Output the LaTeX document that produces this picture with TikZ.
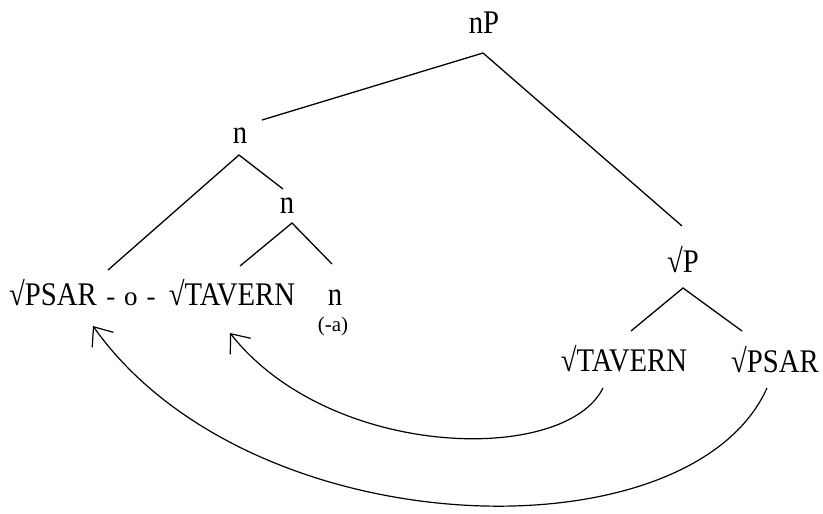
\documentclass[tikz,border=0pt]{standalone}
\usepackage{fontspec}
\setmainfont{Liberation Serif}
\newfontfamily\treefont[FakeStretch=0.87]{Liberation Serif}
\usepackage{tikz}
\usetikzlibrary{arrows.meta}

\begin{document}
\begin{tikzpicture}[x=1pt,y=-1pt,thick,
    tree/.style={inner sep=0pt,anchor=base,font=\treefont\fontsize{33}{36}\selectfont},
    linker/.style={inner sep=0pt,anchor=base,font=\fontsize{27}{29}\selectfont},
    suffix/.style={inner sep=0pt,anchor=base,font=\fontsize{21}{23}\selectfont},
    branch/.style={line width=1.3pt},
    move/.style={line width=1.2pt,-{Straight Barb[length=16pt,width=26pt]}}]
       \useasboundingbox (0,0) rectangle (823,514);

       \node[tree] (nP) at (484,33) {nP};
       \node[tree] (n1) at (240,143) {n};
       \node[tree] (n2) at (287,213) {n};
       \node[tree] (rootP) at (683,272) {√P};
       \node[tree] (psarL) at (53,305) {√PSAR};
       \node[linker] (link) at (131,305) {-\hspace{9pt}o\hspace{9pt}-};
       \node[tree] (tavL) at (232,305) {√TAVERN};
       \node[tree] (n3) at (335,305) {n};
       \node[suffix] (suf) at (333,331) {(-a)};
       \node[tree] (tavR) at (624,371) {√TAVERN};
       \node[tree] (psarR) at (775,372) {√PSAR};

       % tree branches
       \draw[branch] ([shift={(22,-23)}]n1.base) -- ([shift={(-1,20)}]nP.base)
            -- ([shift={(-1,-46)}]rootP.base);
       \draw[branch] ([shift={(55,-35)}]psarL.base) -- ([shift={(-1,12)}]n1.base)
            -- ([shift={(-4,-24)}]n2.base);
       \draw[branch] ([shift={(8,-39)}]tavL.base) -- ([shift={(5,10)}]n2.base)
            -- ([shift={(-3,-41)}]n3.base);
       \draw[branch] ([shift={(7,-40)}]tavR.base) -- ([shift={(0,16)}]rootP.base)
            -- ([shift={(-33,-41)}]psarR.base);

       % movement
       \draw[move] ([shift={(-21,17)}]tavR.base) .. controls (565,465) and (330,460) .. ([shift={(-2,28)}]tavL.base);
       \draw[move] ([shift={(-8,16)}]psarR.base) .. controls (690,560) and (250,548) .. ([shift={(40,21)}]psarL.base);
\end{tikzpicture}
\end{document}
